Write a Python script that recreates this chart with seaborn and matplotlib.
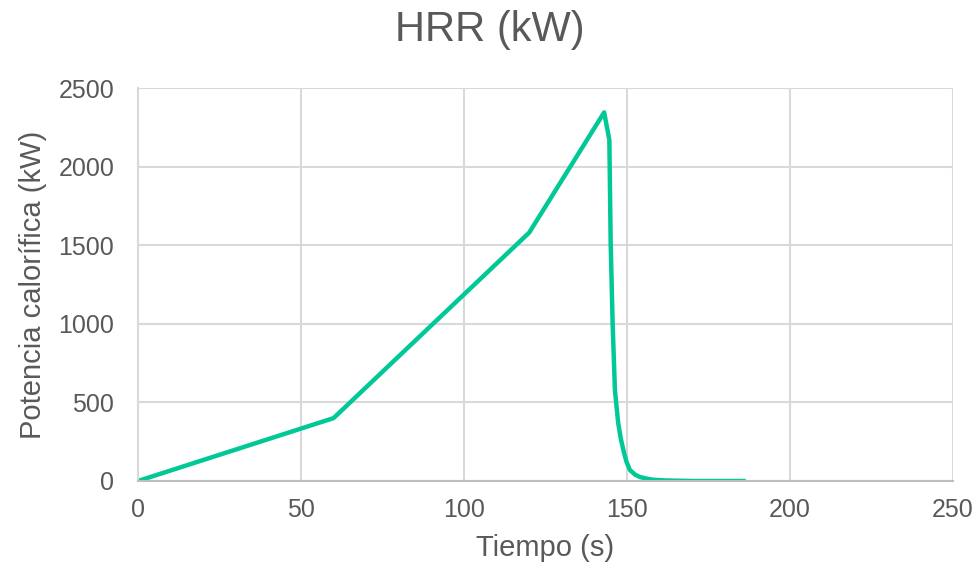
import seaborn as sns
import matplotlib.pyplot as plt
import pandas as pd

# datos
tiempo = [0, 60, 120, 143, 144.6, 145.0, 145.6, 146.3, 147.3, 148.1, 148.9, 149.8, 150.9, 152.5, 154, 156, 158, 162, 170, 186]
potencia = [0, 400, 1580, 2345, 2170, 1515, 1005, 580, 370, 270, 197, 125, 70, 40, 25, 15, 8, 3, 0, 0]

df = pd.DataFrame({'Tiempo': tiempo, 'Potencia': potencia})

sns.set_style('white')
plt.rcParams['font.family'] = ['Liberation Sans', 'DejaVu Sans']
gris = '#595959'

fig = plt.figure(figsize=(9.8, 5.68), dpi=100)
ax = fig.add_axes([0.1408, 0.1532, 0.8316, 0.6918])

sns.lineplot(data=df, x='Tiempo', y='Potencia', sort=False, ax=ax,
             color='#00c896', linewidth=3.2, solid_joinstyle='round', solid_capstyle='round')

ax.set_xlim(0, 250)
ax.set_ylim(0, 2500)
ax.set_xticks(range(0, 251, 50))
ax.set_yticks(range(0, 2501, 500))
ax.grid(True, color='#d9d9d9', linewidth=1.5)
ax.set_axisbelow(True)
for s in ['top', 'right']:
    ax.spines[s].set_visible(False)
ax.spines['left'].set_color('#d9d9d9')
ax.spines['left'].set_linewidth(1.5)
ax.spines['bottom'].set_color('#bfbfbf')
ax.spines['bottom'].set_linewidth(1.5)
ax.tick_params(axis='both', length=0, labelsize=18, labelcolor=gris)
ax.tick_params(axis='x', pad=12)
ax.tick_params(axis='y', pad=17)

ax.set_xlabel('Tiempo (s)', fontsize=21, color=gris, labelpad=9)
ax.set_ylabel('Potencia calorífica (kW)', fontsize=21, color=gris, labelpad=8)
fig.text(0.5, 0.947, 'HRR (kW)', ha='center', va='center', fontsize=30, color=gris)

plt.savefig('out.png', dpi=100)
